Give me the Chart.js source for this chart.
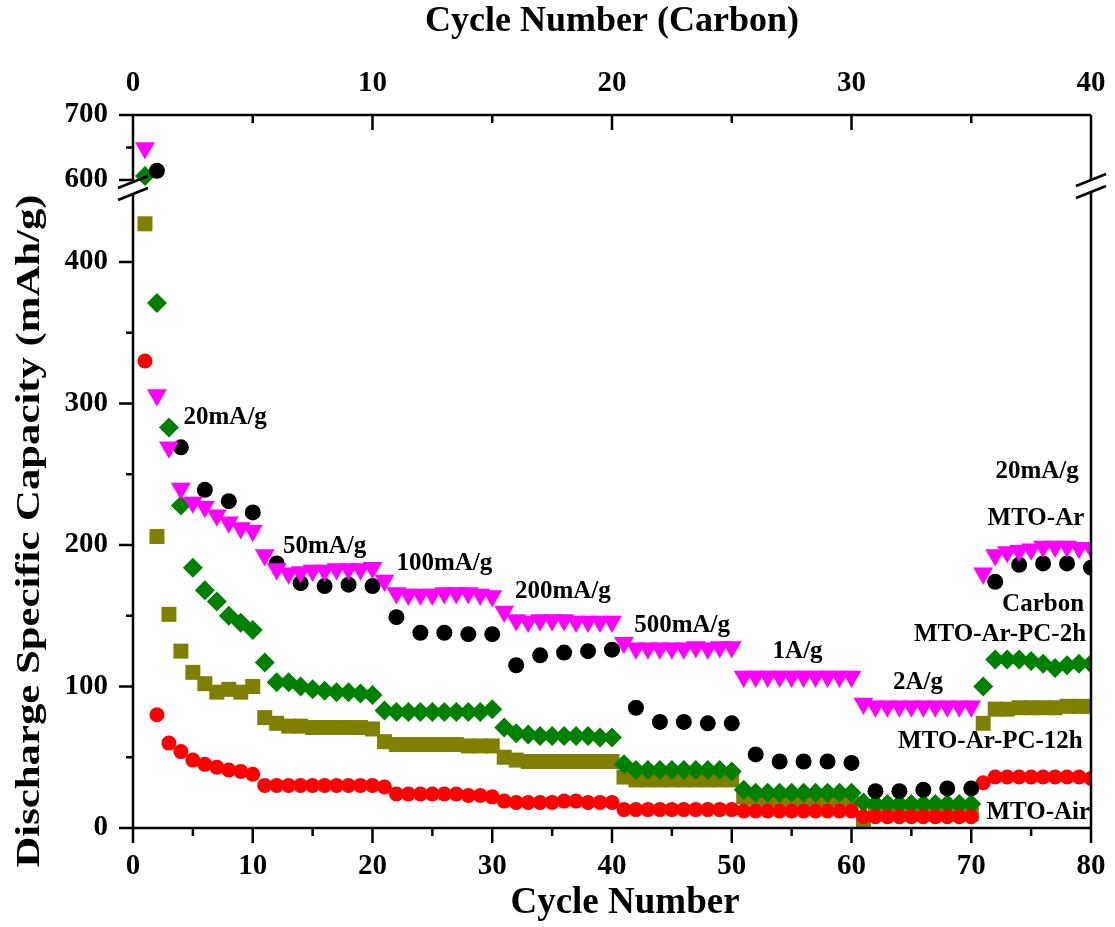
<!DOCTYPE html>
<html>
<head>
<meta charset="utf-8">
<script src="https://cdn.jsdelivr.net/npm/chart.js@4.4.1/dist/chart.umd.min.js"></script>
<style>
  html, body { margin: 0; padding: 0; background: #ffffff; }
  canvas { display: block; }
</style>
</head>
<body>
<canvas id="c" width="1115" height="927"></canvas>
<script>
// ---------------- DATA ----------------
const cycles = [1,2,3,4,5,6,7,8,9,10,11,12,13,14,15,16,17,18,19,20,
  21,22,23,24,25,26,27,28,29,30,31,32,33,34,35,36,37,38,39,40,
  41,42,43,44,45,46,47,48,49,50,51,52,53,54,55,56,57,58,59,60,
  61,62,63,64,65,66,67,68,69,70,71,72,73,74,75,76,77,78,79,80];
const carbonCycles = [1,2,3,4,5,6,7,8,9,10,11,12,13,14,15,16,17,18,19,20,
  21,22,23,24,25,26,27,28,29,30,31,32,33,34,35,36,37,38,39,40];

const mtoAr = [649,306,269,240,230,227,221,216,212,210,
  193,183,180,181,182,182,183,183,183,184,
  175,166,165,165,165,166,166,166,165,164,
  153,147,146,147,147,147,146,146,146,146,
  131,127,127,127,127,127,128,127,128,128,
  107,107,107,107,107,107,107,107,107,107,
  88,86,86,86,86,86,86,86,86,86,
  180,193,195,196,197,199,199,199,198,198];
const carbon = [614,269,239,231,223,187,173,171,172,171,
  149,138,138,137,137,115,122,124,125,126,
  85,75,75,74,74,52,47,47,47,46,
  26,26,27,28,28,174,186,187,187,184];
const mtoArPC2h = [606,371,283,228,184,168,160,150,145,140,
  117,103,103,100,98,97,96,96,95,94,
  83,82,82,82,82,82,82,82,82,84,
  71,67,66,65,65,65,65,65,64,64,
  45,41,41,41,41,41,41,41,41,40,
  27,25,25,25,25,25,25,25,25,25,
  18,17,17,17,17,17,17,17,17,17,
  100,119,119,119,118,116,113,115,116,116];
const mtoArPC12h = [427,206,151,125,110,102,96,98,96,100,
  78,74,72,72,71,71,71,71,71,70,
  61,59,59,59,59,59,59,58,58,58,
  50,48,47,47,47,47,47,47,47,47,
  36,34,34,34,34,34,34,34,34,34,
  22,21,21,21,21,21,21,21,21,21,
  5,10,10,10,10,10,10,10,10,10,
  74,84,84,85,85,85,85,86,86,86];
const mtoAir = [330,80,60,54,48,45,43,41,40,38,
  30,30,30,30,30,30,30,30,30,30,
  29,24,24,24,24,24,24,23,23,22,
  19,18,18,18,18,19,19,18,18,18,
  13,13,13,13,13,13,13,13,13,13,
  12,12,12,12,12,12,12,12,12,12,
  8,8,8,8,8,8,8,8,8,8,
  32,36,36,36,36,36,36,36,36,35];

const yTickValues = [0,100,200,300,400,600,700];
const yTickLabels = ['0','100','200','300','400','600','700'];
const xTickValues = [0,10,20,30,40,50,60,70,80];
const x2TickValues = [0,10,20,30,40];

const rateLabels = ['20mA/g','50mA/g','100mA/g','200mA/g','500mA/g','1A/g','2A/g','20mA/g'];
const rateLabelX = [7.7,16.0,26.0,35.9,45.85,55.5,65.55,75.5];
const rateLabelY = [290,199,187,167,143,125,103,252];
const seriesNames = ['MTO-Ar','Carbon','MTO-Ar-PC-2h','MTO-Ar-PC-12h','MTO-Air'];
const seriesLabelX = [75.4,76.0,72.4,71.6,75.6];
const seriesLabelY = [219,158,137,61,11];

// ---------------- AXIS BREAK MAPPING ----------------
const BREAK_LOW = 455;      // lower segment ends here (data units)
const UPPER_BASE = 458;     // display position of 600
const UPPER_RATIO = 0.459;  // compression of the upper segment
const Y_MAX_DISP = 503.9;
function toDisp(v) {
  return v <= BREAK_LOW ? v : UPPER_BASE + (v - 600) * UPPER_RATIO;
}

const FONT = '"Liberation Serif", "Times New Roman", serif';

function pts(xs, ys) { return ys.map((v, i) => ({x: xs[i], y: toDisp(v)})); }

const datasets = [
  {label: 'MTO-Ar', data: pts(cycles, mtoAr), xAxisID: 'x', pointStyle: 'triangle', rotation: 180,
   pointRadius: 11.5, backgroundColor: '#ff00ff', borderColor: '#ff00ff'},
  {label: 'Carbon', data: pts(carbonCycles, carbon), xAxisID: 'x2', pointStyle: 'circle',
   pointRadius: 8, backgroundColor: '#000000', borderColor: '#000000'},
  {label: 'MTO-Air', data: pts(cycles, mtoAir), xAxisID: 'x', pointStyle: 'circle',
   pointRadius: 7.5, backgroundColor: '#ff0000', borderColor: '#ff0000'},
  {label: 'MTO-Ar-PC-2h', data: pts(cycles, mtoArPC2h), xAxisID: 'x', pointStyle: 'rectRot',
   pointRadius: 10, backgroundColor: '#008000', borderColor: '#008000'},
  {label: 'MTO-Ar-PC-12h', data: pts(cycles, mtoArPC12h), xAxisID: 'x', pointStyle: 'rect',
   pointRadius: 10.6, backgroundColor: '#808000', borderColor: '#808000'}
].map(d => Object.assign(d, {showLine: false, borderWidth: 0, pointHoverRadius: d.pointRadius, clip: 0}));

// ---------------- DECORATION PLUGIN ----------------
const decor = {
  id: 'decor',
  afterDraw(chart) {
    const ctx = chart.ctx;
    const a = chart.chartArea;
    const xs = chart.scales.x, x2 = chart.scales.x2, ys = chart.scales.y;
    ctx.save();
    ctx.strokeStyle = '#000';
    ctx.lineWidth = 2.5;
    ctx.lineCap = 'butt';
    const brk1 = 183, brk2 = 193;
    ctx.beginPath();
    // frame
    ctx.moveTo(a.left, a.top); ctx.lineTo(a.right, a.top);
    ctx.moveTo(a.left, a.bottom); ctx.lineTo(a.right, a.bottom);
    ctx.moveTo(a.left, a.top); ctx.lineTo(a.left, brk1);
    ctx.moveTo(a.left, brk2); ctx.lineTo(a.left, a.bottom);
    ctx.moveTo(a.right, a.top); ctx.lineTo(a.right, brk1 - 2);
    ctx.moveTo(a.right, brk2 - 2); ctx.lineTo(a.right, a.bottom);
    // bottom ticks (outward)
    for (let v = 0; v <= 80; v += 5) {
      const p = xs.getPixelForValue(v);
      const len = (v % 10 === 0) ? 15 : 8;
      ctx.moveTo(p, a.bottom); ctx.lineTo(p, a.bottom + len);
    }
    // top ticks (inward)
    for (let v = 0; v <= 40; v += 5) {
      const p = x2.getPixelForValue(v);
      const len = (v % 10 === 0) ? 15 : 8;
      ctx.moveTo(p, a.top); ctx.lineTo(p, a.top + len);
    }
    // left ticks (outward)
    yTickValues.forEach(v => {
      const p = ys.getPixelForValue(toDisp(v));
      ctx.moveTo(a.left, p); ctx.lineTo(a.left - 14, p);
    });
    [50,150,250,350,650].forEach(v => {
      const p = ys.getPixelForValue(toDisp(v));
      ctx.moveTo(a.left, p); ctx.lineTo(a.left - 7, p);
    });
    ctx.stroke();
    // break marks
    ctx.beginPath();
    [[a.left, brk1 - 1], [a.left, brk2 + 1], [a.right, brk1 - 3], [a.right, brk2 - 1]].forEach(([cx, cy]) => {
      ctx.moveTo(cx - 15, cy + 6); ctx.lineTo(cx + 15, cy - 6);
    });
    ctx.stroke();

    // annotations
    ctx.fillStyle = '#000';
    ctx.font = 'bold 25px ' + FONT;
    ctx.textAlign = 'center';
    ctx.textBaseline = 'middle';
    rateLabels.forEach((t, i) => {
      ctx.fillText(t, xs.getPixelForValue(rateLabelX[i]), ys.getPixelForValue(rateLabelY[i]));
    });
    seriesNames.forEach((t, i) => {
      ctx.fillText(t, xs.getPixelForValue(seriesLabelX[i]), ys.getPixelForValue(seriesLabelY[i]));
    });

    // bottom axis title
    ctx.font = 'bold 37px ' + FONT;
    ctx.fillText('Cycle Number', 625, 903);

    // y axis title (stretched to match)
    ctx.save();
    ctx.translate(30, 531);
    ctx.rotate(-Math.PI / 2);
    ctx.font = 'bold 33px ' + FONT;
    const title = 'Discharge Specific Capacity (mAh/g)';
    const w = ctx.measureText(title).width;
    ctx.scale(673 / w, 1);
    ctx.fillText(title, 0, 0);
    ctx.restore();
    ctx.restore();
  }
};

const tickFont = {family: FONT, size: 29, weight: 'bold'};
const titleFont = {family: FONT, size: 36, weight: 'bold'};

function fitX(h) {
  return s => { s.height = h; s.paddingLeft = 0; s.paddingRight = 0; };
}

new Chart(document.getElementById('c'), {
  type: 'scatter',
  data: {datasets},
  options: {
    responsive: false,
    animation: false,
    devicePixelRatio: 1,
    layout: {padding: {left: 0, right: 24, top: 0, bottom: 0}},
    plugins: {legend: {display: false}, tooltip: {enabled: false}},
    scales: {
      x: {
        type: 'linear', position: 'bottom', min: 0, max: 80,
        afterBuildTicks: s => { s.ticks = xTickValues.map(v => ({value: v})); },
        afterFit: fitX(99),
        grid: {display: false, drawTicks: false},
        border: {display: false},
        ticks: {font: tickFont, color: '#000', padding: 21, maxRotation: 0, autoSkip: false},
        title: {display: false}
      },
      x2: {
        type: 'linear', position: 'top', min: 0, max: 40,
        afterBuildTicks: s => { s.ticks = x2TickValues.map(v => ({value: v})); },
        afterFit: fitX(115),
        grid: {display: false, drawTicks: false},
        border: {display: false},
        ticks: {font: tickFont, color: '#000', padding: 14, maxRotation: 0, autoSkip: false},
        title: {display: true, text: 'Cycle Number (Carbon)', font: titleFont, color: '#000', padding: {top: 0, bottom: 0}}
      },
      y: {
        type: 'linear', position: 'left', min: 0, max: Y_MAX_DISP,
        afterBuildTicks: s => { s.ticks = yTickValues.map(v => ({value: toDisp(v)})); },
        afterFit: s => { s.width = 133; s.paddingTop = 0; s.paddingBottom = 0; },
        grid: {display: false, drawTicks: false},
        border: {display: false},
        ticks: {font: tickFont, color: '#000', padding: 25, autoSkip: false,
                callback: (val, idx) => yTickLabels[idx]},
        title: {display: false}
      }
    }
  },
  plugins: [decor]
});
</script>
</body>
</html>
